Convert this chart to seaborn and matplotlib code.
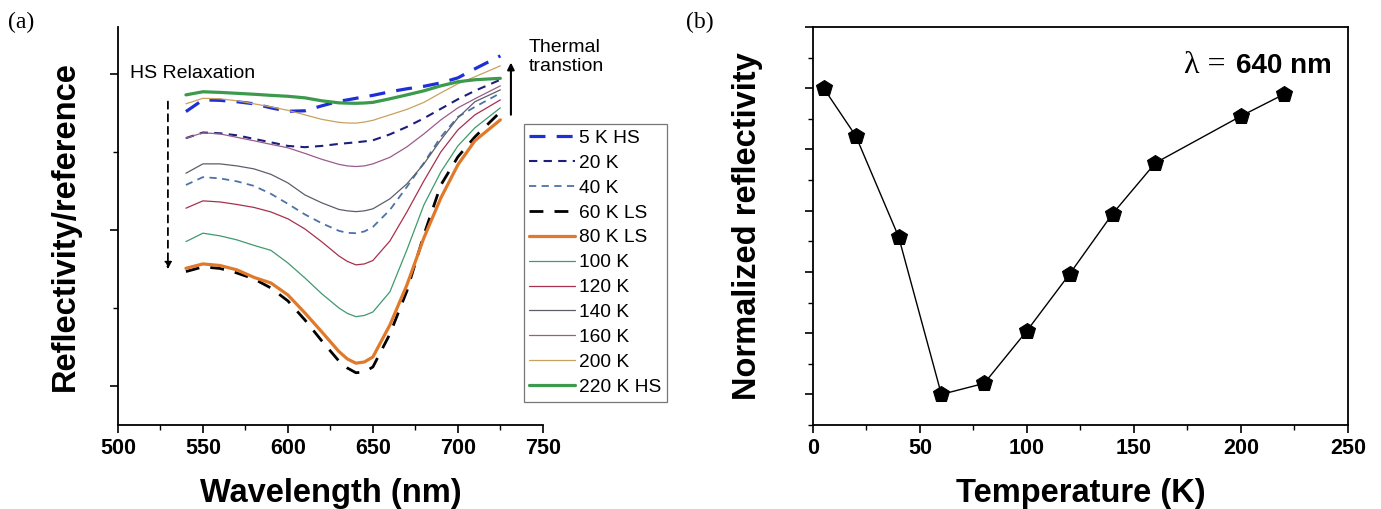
import matplotlib
matplotlib.use("Agg")
import matplotlib.pyplot as plt
from matplotlib.ticker import MultipleLocator, NullFormatter
import seaborn as sns

sns.set_theme(style="ticks")
plt.rcParams["font.family"] = ["Liberation Sans", "DejaVu Sans"]
plt.rcParams["axes.linewidth"] = 1.3
for key in ("text.color", "axes.labelcolor", "xtick.color", "ytick.color",
            "axes.edgecolor"):
    plt.rcParams[key] = "black"

# ---- (a) reflectivity spectra -------------------------------------------
wavelength = [540, 550, 560, 570, 580, 590, 600, 610, 620, 630, 635,
              640, 645, 650, 660, 670, 680, 690, 700, 710, 725]

r_5K = [37.58, 38.33, 38.30, 38.21, 38.08, 37.82, 37.60, 37.63, 37.95, 38.24, 38.33,
        38.43, 38.53, 38.62, 38.85, 39.04, 39.20, 39.42, 39.74, 40.32, 41.15]
r_20K = [35.88, 36.24, 36.19, 36.06, 35.83, 35.61, 35.38, 35.30, 35.38, 35.51, 35.56,
         35.61, 35.67, 35.74, 36.12, 36.60, 37.15, 37.76, 38.37, 38.91, 39.62]
r_40K = [32.88, 33.38, 33.30, 33.11, 32.82, 32.31, 31.67, 30.99, 30.42, 29.94, 29.81,
         29.79, 29.90, 30.19, 31.28, 32.76, 34.29, 35.96, 37.24, 37.88, 38.76]
r_60K = [27.33, 27.63, 27.53, 27.24, 26.86, 26.28, 25.45, 24.23, 22.88, 21.60, 21.15,
         20.85, 20.90, 21.22, 23.33, 26.09, 29.68, 32.88, 34.68, 35.96, 37.56]
r_80K = [27.54, 27.82, 27.72, 27.44, 26.96, 26.60, 25.83, 24.68, 23.46, 22.21, 21.73,
         21.46, 21.54, 21.86, 23.91, 26.47, 29.49, 32.05, 34.17, 35.71, 37.05]
r_100K = [29.25, 29.79, 29.62, 29.36, 29.01, 28.69, 27.88, 26.92, 25.90, 25.00, 24.65,
          24.44, 24.52, 24.74, 26.03, 28.72, 31.60, 33.72, 35.38, 36.54, 37.82]
r_120K = [31.39, 31.86, 31.79, 31.63, 31.44, 31.15, 30.71, 30.06, 29.23, 28.33, 27.98,
          27.76, 27.82, 28.04, 29.29, 31.15, 33.14, 35.00, 36.41, 37.37, 38.33]
r_140K = [33.63, 34.23, 34.23, 34.10, 33.91, 33.56, 33.01, 32.24, 31.73, 31.31, 31.22,
          31.17, 31.22, 31.35, 31.99, 32.95, 34.23, 35.77, 37.18, 38.21, 38.97]
r_160K = [35.88, 36.22, 36.15, 35.93, 35.71, 35.48, 35.26, 34.90, 34.52, 34.20, 34.10,
          34.06, 34.10, 34.23, 34.65, 35.32, 36.15, 37.05, 37.82, 38.40, 39.23]
r_200K = [38.08, 38.43, 38.40, 38.27, 38.08, 37.88, 37.66, 37.37, 37.08, 36.89, 36.85,
          36.84, 36.91, 37.02, 37.37, 37.72, 38.17, 38.78, 39.36, 39.81, 40.51]
r_220K = [38.65, 38.85, 38.81, 38.75, 38.69, 38.62, 38.56, 38.46, 38.27, 38.14, 38.12,
          38.11, 38.13, 38.17, 38.40, 38.65, 38.91, 39.23, 39.49, 39.62, 39.71]

spectrum_labels = ["5 K HS", "20 K", "40 K", "60 K LS", "80 K LS", "100 K",
                   "120 K", "140 K", "160 K", "200 K", "220 K HS"]
spectra = [r_5K, r_20K, r_40K, r_60K, r_80K, r_100K,
           r_120K, r_140K, r_160K, r_200K, r_220K]

# line styles: (colour, width, dash pattern or None for solid)
styles = [
    ("#1f2fd6", 2.3, (5, 3.5)),
    ("#1c1f7a", 1.5, (4, 3)),
    ("#4d72a8", 1.3, (4, 3)),
    ("#000000", 2.0, (5, 4)),
    ("#e07a2a", 2.3, None),
    ("#3f9a6c", 0.9, None),
    ("#a8304c", 0.9, None),
    ("#5e5e6a", 0.9, None),
    ("#9a5c8a", 0.9, None),
    ("#c9a15e", 0.9, None),
    ("#3b9a4c", 2.3, None),
]

# ---- (b) normalized reflectivity at 640 nm -------------------------------
temperature = [5, 20, 40, 60, 80, 100, 120, 140, 160, 200, 220]
norm_refl = [1.0, 0.844, 0.515, 0.0, 0.036, 0.208, 0.394, 0.590, 0.756, 0.909, 0.980]

fig = plt.figure(figsize=(13.81, 5.09), dpi=100)
ax1 = fig.add_axes([0.0854, 0.165, 0.3077, 0.782])
ax2 = fig.add_axes([0.5887, 0.165, 0.3874, 0.782])

for vals, lab, (col, lw, dash) in zip(spectra, spectrum_labels, styles):
    ls = "-" if dash is None else (0, dash)
    sns.lineplot(x=wavelength, y=vals, ax=ax1, color=col, linewidth=lw,
                 linestyle=ls, label=lab)

ax1.set_xlim(500, 750)
ax1.set_ylim(17.5, 43.0)
ax1.xaxis.set_major_locator(MultipleLocator(50))
ax1.xaxis.set_minor_locator(MultipleLocator(25))
ax1.yaxis.set_major_locator(MultipleLocator(10))
ax1.yaxis.set_minor_locator(MultipleLocator(5))
ax1.yaxis.set_major_formatter(NullFormatter())
ax1.spines["top"].set_visible(False)
ax1.spines["right"].set_visible(False)

ax1.set_xlabel("Wavelength (nm)", fontsize=23.5, fontweight="bold")
ax1.set_ylabel("Reflectivity/reference", fontsize=23.5, fontweight="bold")
ax1.xaxis.set_label_coords(0.5, -0.133)
ax1.yaxis.set_label_coords(-0.087, 0.5)

leg = ax1.legend(loc="upper left", bbox_to_anchor=(0.955, 0.757), fontsize=13.8,
                 frameon=True, fancybox=False, edgecolor="#555555",
                 handlelength=2.4, handletextpad=0.2, labelspacing=0.39,
                 borderpad=0.3, borderaxespad=0.0)
leg.get_frame().set_linewidth(0.9)

ax1.text(507, 40.0, "HS Relaxation", fontsize=14, ha="left", va="center")
ax1.annotate("", xy=(529.4, 27.3), xytext=(529.4, 38.4),
             arrowprops=dict(arrowstyle="-|>", color="black", lw=1.3,
                             linestyle=(0, (4, 3)), mutation_scale=10))
ax1.annotate("", xy=(731.2, 40.9), xytext=(731.2, 37.2),
             arrowprops=dict(arrowstyle="-|>", color="black", lw=1.5,
                             mutation_scale=10))
ax1.text(741.5, 42.25, "Thermal\ntranstion", fontsize=14, ha="left", va="top",
         linespacing=1.2)

sns.lineplot(x=temperature, y=norm_refl, ax=ax2, color="black", linewidth=1.0,
             marker="p", markersize=12, markeredgecolor="black",
             markerfacecolor="black")
ax2.set_xlim(0, 250)
ax2.set_ylim(-0.1, 1.2)
ax2.xaxis.set_major_locator(MultipleLocator(50))
ax2.xaxis.set_minor_locator(MultipleLocator(25))
ax2.yaxis.set_major_locator(MultipleLocator(0.2))
ax2.yaxis.set_minor_locator(MultipleLocator(0.1))
ax2.yaxis.set_major_formatter(NullFormatter())
ax2.set_xlabel("Temperature (K)", fontsize=23.5, fontweight="bold")
ax2.set_ylabel("Normalized reflectivity", fontsize=23.5, fontweight="bold")
ax2.xaxis.set_label_coords(0.5, -0.133)
ax2.yaxis.set_label_coords(-0.094, 0.5)

lam_txt = ax2.text(0.97, 0.885, "640 nm", transform=ax2.transAxes,
                   fontsize=20, fontweight="bold", ha="right", va="baseline")
fig.canvas.draw()
bb = lam_txt.get_window_extent()
x_left = ax2.transAxes.inverted().transform((bb.x0, bb.y0))[0]
ax2.text(x_left - 0.005, 0.885, "λ = ", transform=ax2.transAxes,
         fontsize=23, family=["Liberation Serif", "DejaVu Serif"],
         ha="right", va="baseline")

for ax in (ax1, ax2):
    ax.tick_params(axis="both", which="major", direction="out", length=6,
                   width=1.2, labelsize=15.5, color="black", labelcolor="black")
    ax.tick_params(axis="both", which="minor", direction="out", length=3.5,
                   width=1.0, color="black")
    for lbl in ax.get_xticklabels():
        lbl.set_fontweight("bold")

fig.text(0.006, 0.955, "(a)", fontsize=17, family=["Liberation Serif", "DejaVu Serif"],
         va="center")
fig.text(0.4965, 0.955, "(b)", fontsize=17, family=["Liberation Serif", "DejaVu Serif"],
         va="center")

fig.savefig("out.png", dpi=100, facecolor="white")
